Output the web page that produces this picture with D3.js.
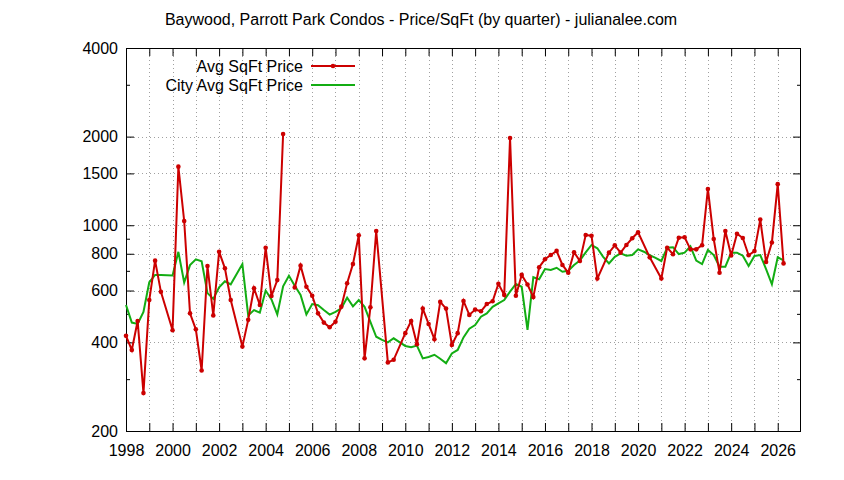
<!DOCTYPE html>
<html>
<head>
<meta charset="utf-8">
<script src="https://cdn.jsdelivr.net/npm/d3@7"></script>
<style>
  html, body { margin: 0; padding: 0; background: #fff; }
  svg { display: block; }
  text { font-family: "Liberation Sans", Arial, sans-serif; fill: #000; }
</style>
</head>
<body>
<svg id="chart" width="844" height="480"></svg>
<script>
// ---- Data ----
const chartTitle = "Baywood, Parrott Park Condos - Price/SqFt (by quarter) - julianalee.com";
const seriesNames = ["Avg SqFt Price", "City Avg SqFt Price"];

// Avg SqFt Price (quarter start as decimal year); null marks a break in the line
const avgTimes = [
  1998.00, 1998.25, 1998.50, 1998.75, 1999.00, 1999.25, 1999.50,
  2000.00, 2000.25, 2000.50, 2000.75, 2001.00, 2001.25, 2001.50, 2001.75,
  2002.00, 2002.25, 2002.50, 2003.00, 2003.25, 2003.50, 2003.75,
  2004.00, 2004.25, 2004.50, 2004.75, 2005.00, 2005.25, 2005.50, 2005.75,
  2006.00, 2006.25, 2006.50, 2006.75, 2007.00, 2007.25, 2007.50, 2007.75,
  2008.00, 2008.25, 2008.50, 2008.75, 2009.25, 2009.50, 2010.00, 2010.25,
  2010.50, 2010.75, 2011.00, 2011.25, 2011.50, 2011.75, 2012.00, 2012.25,
  2012.50, 2012.75, 2013.00, 2013.25, 2013.50, 2013.75, 2014.00, 2014.25,
  2014.50, 2014.75, 2015.00, 2015.25, 2015.50, 2015.75, 2016.00, 2016.25,
  2016.50, 2016.75, 2017.00, 2017.25, 2017.50, 2017.75, 2018.00, 2018.25,
  2018.75, 2019.00, 2019.25, 2019.50, 2019.75, 2020.00, 2020.50, 2021.00,
  2021.25, 2021.50, 2021.75, 2022.00, 2022.25, 2022.50, 2022.75, 2023.00,
  2023.25, 2023.50, 2023.75, 2024.00, 2024.25, 2024.50, 2024.75, 2025.00,
  2025.25, 2025.50, 2025.75, 2026.00, 2026.25
];
const avgPrices = [
  421, 377, 473, 269, 557, 758, 594,
  440, 1581, 1034, 502, 443, 321, 727, 494,
  813, 714, 557, 387, 477, 611, 536,
  839, 575, 651, 2041, null, 615, 729, 618,
  576, 502, 467, 450, 470, 529, 635, 738,
  924, 353, 526, 956, 342, 349, 430, 473,
  394, 521, 462, 410, 549, 521, 392, 430,
  553, 496, 517, 510, 540, 552, 633, 580,
  1979, 576, 678, 629, 570, 720, 766, 792,
  818, 733, 690, 810, 756, 926, 921, 659,
  807, 855, 807, 857, 903, 946, 778, 659,
  839, 797, 907, 910, 828, 828, 855, 1328,
  898, 690, 956, 789, 936, 905, 791, 817,
  1045, 750, 874, 1379, 742
];

// City Avg SqFt Price
const cityTimes = [
  1998.00, 1998.25, 1998.50, 1998.75, 1999.00, 1999.25, 1999.50,
  2000.00, 2000.25, 2000.50, 2000.75, 2001.00, 2001.25, 2001.50, 2001.75,
  2002.00, 2002.25, 2002.50, 2003.00, 2003.25, 2003.50, 2003.75,
  2004.00, 2004.25, 2004.50, 2004.75, 2005.00, 2005.25, 2005.50, 2005.75,
  2006.00, 2006.25, 2006.50, 2006.75, 2007.00, 2007.25, 2007.50, 2007.75,
  2008.00, 2008.25, 2008.50, 2008.75, 2009.00, 2009.25, 2009.50, 2009.75,
  2010.00, 2010.25, 2010.50, 2010.75, 2011.00, 2011.25, 2011.50, 2011.75,
  2012.00, 2012.25, 2012.50, 2012.75, 2013.00, 2013.25, 2013.50, 2013.75,
  2014.00, 2014.25, 2014.50, 2014.75, 2015.00, 2015.25, 2015.50, 2015.75,
  2016.00, 2016.25, 2016.50, 2016.75, 2017.00, 2017.25, 2017.50, 2017.75,
  2018.00, 2018.25, 2018.50, 2018.75, 2019.00, 2019.25, 2019.50, 2019.75,
  2020.00, 2020.25, 2020.50, 2020.75, 2021.00, 2021.25, 2021.50, 2021.75,
  2022.00, 2022.25, 2022.50, 2022.75, 2023.00, 2023.25, 2023.50, 2023.75,
  2024.00, 2024.25, 2024.50, 2024.75, 2025.00, 2025.25, 2025.50, 2025.75,
  2026.00, 2026.25
];
const cityPrices = [
  536, 467, 462, 508, 640, 678, 677,
  675, 812, 639, 732, 766, 754, 588, 562,
  615, 645, 630, 738, 494, 515, 505,
  600, 560, 498, 620, 674, 623, 580, 498,
  540, 535, 515, 497, 508, 522, 567, 530,
  557, 528, 470, 418, 408, 400, 413, 401,
  389, 385, 390, 353, 357, 363, 352, 340,
  367, 377, 416, 445, 458, 489, 502, 528,
  543, 557, 595, 632, 618, 441, 666, 655,
  710, 705, 717, 695, 700, 733, 758, 809,
  857, 835, 781, 742, 781, 803, 788, 792,
  828, 813, 792, 775, 756, 839, 842, 798,
  807, 848, 758, 738, 824, 792, 723, 723,
  807, 807, 788, 727, 786, 792, 710, 630,
  778, 760
];

const yLabelTicks = [200, 400, 600, 800, 1000, 1500, 2000, 4000];
const yMinorTicks = [300, 500, 700, 900, 3000];
const xDomain = [1998, 2027];
const yDomain = [200, 4000];

// ---- Layout ----
const L = 126, R = 801, T = 48, B = 431;
const svg = d3.select("#chart");
const x = d3.scaleLinear().domain(xDomain).range([L, R]);
const y = d3.scaleLog().domain(yDomain).range([B, T]);

const gridColor = "#a0a0a0";
const fontSize = 16;

// grid: vertical at every year, horizontal at labelled ticks
const years = d3.range(1999, 2027);
svg.append("g").selectAll("line").data(years).join("line")
  .attr("x1", d => Math.round(x(d)) + 0.5).attr("x2", d => Math.round(x(d)) + 0.5)
  .attr("y1", T).attr("y2", B)
  .attr("stroke", gridColor).attr("stroke-width", 1).attr("stroke-dasharray", "1,3");
svg.append("g").selectAll("line").data(yLabelTicks.filter(v => v > 200 && v < 4000)).join("line")
  .attr("x1", L).attr("x2", R)
  .attr("y1", d => Math.round(y(d)) + 0.5).attr("y2", d => Math.round(y(d)) + 0.5)
  .attr("stroke", gridColor).attr("stroke-width", 1).attr("stroke-dasharray", "1,3");

// axes (gnuplot style, ticks inward on all sides)
const xAxisB = d3.axisBottom(x).tickValues(d3.range(1998, 2027)).tickSize(-8).tickPadding(14)
  .tickFormat(d => (d % 2 === 0 ? d : ""));
const gxb = svg.append("g").attr("transform", `translate(0,${B})`).call(xAxisB);
const xAxisT = d3.axisTop(x).tickValues(d3.range(1998, 2027)).tickSize(-8).tickFormat("");
const gxt = svg.append("g").attr("transform", `translate(0,${T})`).call(xAxisT);

const yAxisL = d3.axisLeft(y).tickValues(yLabelTicks).tickSize(-8).tickPadding(8).tickFormat(d3.format("d"));
const gyl = svg.append("g").attr("transform", `translate(${L},0)`).call(yAxisL);
const yAxisR = d3.axisRight(y).tickValues(yLabelTicks).tickSize(-8).tickFormat("");
const gyr = svg.append("g").attr("transform", `translate(${R},0)`).call(yAxisR);
const yMinL = d3.axisLeft(y).tickValues(yMinorTicks).tickSize(-4).tickFormat("");
const gyml = svg.append("g").attr("transform", `translate(${L},0)`).call(yMinL);
const yMinR = d3.axisRight(y).tickValues(yMinorTicks).tickSize(-4).tickFormat("");
const gymr = svg.append("g").attr("transform", `translate(${R},0)`).call(yMinR);

[gxb, gxt, gyl, gyr, gyml, gymr].forEach(g => {
  g.select(".domain").remove();
  g.selectAll(".tick line").attr("stroke", "#000").attr("stroke-width", 1);
  g.selectAll(".tick text").attr("font-family", "Liberation Sans, Arial, sans-serif")
    .attr("font-size", fontSize).attr("fill", "#000");
});

// border
svg.append("rect").attr("x", L + 0.5).attr("y", T + 0.5)
  .attr("width", R - L - 1).attr("height", B - T)
  .attr("fill", "none").attr("stroke", "#000").attr("stroke-width", 1);

// title
svg.append("text").attr("x", 421).attr("y", 25).attr("text-anchor", "middle")
  .attr("font-size", fontSize).text(chartTitle);

// series
const red = "#cc0000", green = "#13ad13";
const avgData = avgTimes.map((t, i) => ({ t, v: avgPrices[i] }));
const cityData = cityTimes.map((t, i) => ({ t, v: cityPrices[i] }));

const line = d3.line().defined(d => d.v != null).x(d => x(d.t)).y(d => y(d.v));

svg.append("path").datum(cityData).attr("d", line)
  .attr("fill", "none").attr("stroke", green).attr("stroke-width", 2).attr("stroke-linejoin", "miter");
svg.append("path").datum(avgData).attr("d", line)
  .attr("fill", "none").attr("stroke", red).attr("stroke-width", 2).attr("stroke-linejoin", "miter");
svg.append("g").selectAll("circle").data(avgData.filter(d => d.v != null)).join("circle")
  .attr("cx", d => x(d.t)).attr("cy", d => y(d.v)).attr("r", 2.3).attr("fill", red);

// legend
const legend = svg.append("g");
const legY = [66, 85];
const legColors = [red, green];
seriesNames.forEach((name, i) => {
  legend.append("text").attr("x", 303).attr("y", legY[i]).attr("dy", "0.35em")
    .attr("text-anchor", "end").attr("font-size", fontSize).text(name);
  legend.append("line").attr("x1", 311).attr("x2", 355).attr("y1", legY[i]).attr("y2", legY[i])
    .attr("stroke", legColors[i]).attr("stroke-width", 2);
});
legend.append("circle").attr("cx", 333).attr("cy", legY[0]).attr("r", 2.3).attr("fill", red);
</script>
</body>
</html>
